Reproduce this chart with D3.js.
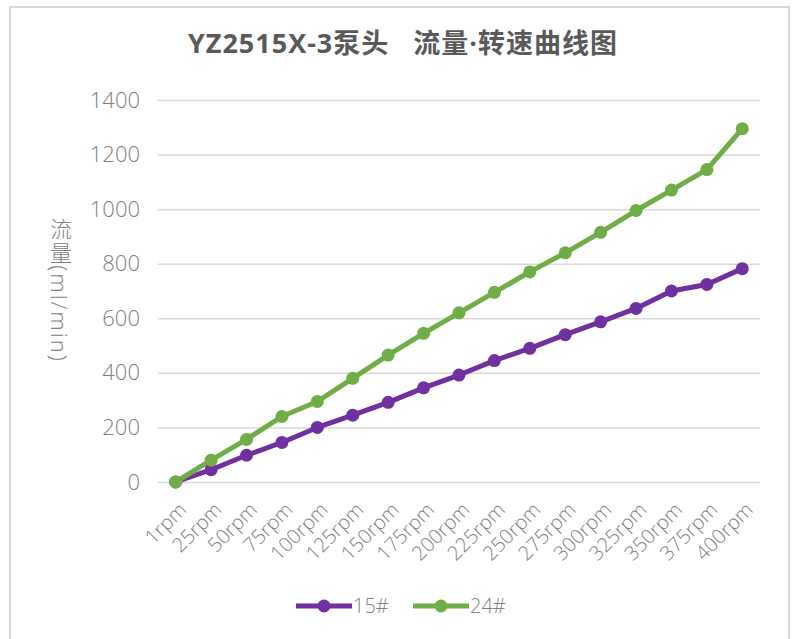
<!DOCTYPE html>
<html>
<head>
<meta charset="utf-8">
<script src="https://cdn.jsdelivr.net/npm/d3@7"></script>
<style>
  body { margin: 0; background: #fff; }
  text { font-family: "Open Sans", "Noto Sans CJK SC", sans-serif; }
</style>
</head>
<body>
<div id="chartHolder"></div>
<script>
// speeds on the x axis
const speeds = ["1rpm", "25rpm", "50rpm", "75rpm", "100rpm", "125rpm", "150rpm", "175rpm", "200rpm",
  "225rpm", "250rpm", "275rpm", "300rpm", "325rpm", "350rpm", "375rpm", "400rpm"];
// flow (ml/min)
const flow15 = [0, 45, 98, 145, 200, 245, 292, 345, 392, 445, 490, 540, 587, 636, 700, 724, 782];
const flow24 = [0, 80, 156, 240, 295, 380, 465, 545, 620, 695, 770, 840, 915, 995, 1070, 1145, 1295];
const yTicks = [0, 200, 400, 600, 800, 1000, 1200, 1400];
const seriesNames = ["15#", "24#"];
const seriesColors = ["#7030A0", "#70AD47"];

const w = 793, h = 639;
const plotL = 158, plotR = 760, plotT = 100, plotB = 482;

const svg = d3.select("#chartHolder").append("svg")
  .attr("width", w)
  .attr("height", h);

// chart border
svg.append("rect")
  .attr("x", 10).attr("y", 7)
  .attr("width", 779).attr("height", 640)
  .attr("fill", "#fff")
  .attr("stroke", "#d9d9d9")
  .attr("stroke-width", 2);

const xScale = d3.scaleBand()
  .domain(speeds)
  .range([plotL, plotR])
  .padding(0);

const yScale = d3.scaleLinear()
  .domain([0, 1400])
  .range([plotB, plotT]);

// gridlines
const yAxis = d3.axisLeft(yScale)
  .tickValues(yTicks)
  .tickFormat((d) => d)
  .tickSize(-(plotR - plotL))
  .tickPadding(18);
const yAxisCall = svg.append("g")
  .attr("transform", "translate(" + plotL + ",0)")
  .call(yAxis);
yAxisCall.select(".domain").remove();
yAxisCall.selectAll("line").attr("stroke", "#d9d9d9").attr("stroke-width", 1.5);
yAxisCall.selectAll("text")
  .attr("fill", "#808080")
  .style("font-size", "22px")
  .style("font-weight", "300")
  .style("font-family", "\"Open Sans\", sans-serif");

// x axis (labels only)
const xAxis = d3.axisBottom(xScale).tickSize(0);
const xAxisCall = svg.append("g")
  .attr("transform", "translate(0," + plotB + ")")
  .call(xAxis);
xAxisCall.select(".domain").remove();
xAxisCall.selectAll("text")
  .attr("fill", "#808080")
  .style("font-size", "20px")
  .style("font-weight", "300")
  .style("font-family", "\"Open Sans\", sans-serif")
  .attr("text-anchor", "end")
  .attr("dy", "0")
  .attr("y", 0)
  .attr("transform", "translate(12,29) rotate(-45)");

// lines
const line = d3.line()
  .x((d, i) => xScale(speeds[i]) + xScale.bandwidth() / 2)
  .y((d) => yScale(d));

[flow15, flow24].forEach((s, k) => {
  svg.append("path")
    .datum(s)
    .attr("fill", "none")
    .attr("stroke", seriesColors[k])
    .attr("stroke-width", 5)
    .attr("stroke-linejoin", "round")
    .attr("d", line);
});
[flow15, flow24].forEach((s, k) => {
  svg.selectAll(".pt" + k)
    .data(s)
    .enter()
    .append("circle")
    .attr("class", "pt" + k)
    .attr("cx", (d, i) => xScale(speeds[i]) + xScale.bandwidth() / 2)
    .attr("cy", (d) => yScale(d))
    .attr("r", 6.5)
    .attr("fill", seriesColors[k]);
});

// title
svg.append("text")
  .attr("x", 403)
  .attr("y", 53)
  .attr("text-anchor", "middle")
  .attr("fill", "#595959")
  .style("font-size", "27px")
  .style("font-weight", "bold")
  .style("letter-spacing", "1px")
  .style("white-space", "pre")
  .text("YZ2515X-3泵头   流量\u00b7转速曲线图");

// y axis title (vertical text)
svg.append("text")
  .attr("x", 60)
  .attr("y", 290)
  .attr("text-anchor", "middle")
  .style("writing-mode", "vertical-rl")
  .attr("fill", "#808080")
  .style("font-size", "22px")
  .style("font-weight", "300")
  .style("letter-spacing", "2px")
  .text("流量(ml/min)");

// legend
const legX = [296, 413];
seriesNames.forEach((n, k) => {
  const g = svg.append("g").attr("transform", "translate(" + legX[k] + ",606)");
  g.append("line")
    .attr("x1", 0).attr("x2", 56)
    .attr("stroke", seriesColors[k])
    .attr("stroke-width", 5);
  g.append("circle").attr("cx", 28).attr("r", 6.5).attr("fill", seriesColors[k]);
  g.append("text")
    .attr("x", 57).attr("y", 7)
    .attr("fill", "#808080")
    .style("font-size", "20px")
    .style("font-weight", "300")
    .text(n);
});
</script>
</body>
</html>
